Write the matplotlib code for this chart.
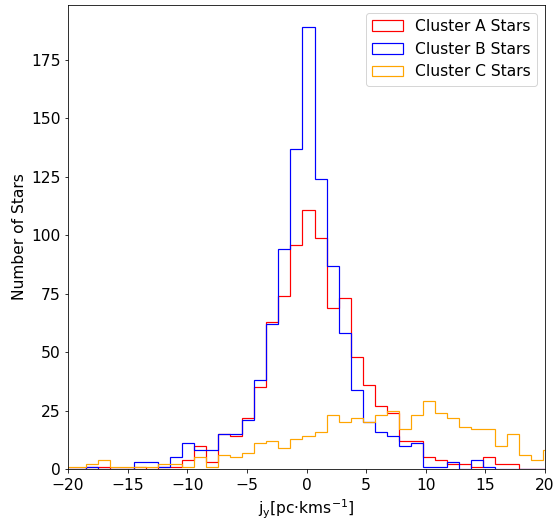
import numpy as np
import matplotlib
matplotlib.use("Agg")
import matplotlib.pyplot as plt

# Shared histogram bin edges (41 bins) and counts per cluster
bin_lo, bin_hi, n_bins = -20.51, 20.84, 41

cluster_a = [0, 0, 1, 1, 0, 0, 1, 0, 1, 1,
             4, 10, 3, 15, 14, 22, 35, 63, 74, 96,
             111, 99, 69, 73, 48, 36, 27, 24, 12, 12,
             5, 4, 2, 2, 1, 5, 2, 2, 0, 0, 0]
cluster_b = [0, 0, 1, 0, 0, 0, 3, 3, 1, 5,
             11, 8, 8, 15, 15, 21, 38, 62, 94, 137,
             189, 124, 87, 58, 34, 20, 16, 14, 10, 11,
             1, 1, 3, 0, 4, 1, 0, 0, 0, 0, 0]
cluster_c = [1, 1, 2, 4, 1, 1, 1, 1, 2, 2,
             1, 5, 1, 6, 5, 7, 11, 12, 9, 13,
             14, 16, 23, 20, 22, 20, 23, 25, 17, 23,
             29, 24, 22, 18, 17, 17, 10, 15, 6, 4, 8]

labels = ["Cluster A Stars", "Cluster B Stars", "Cluster C Stars"]
colors = ["red", "blue", "orange"]
x_ticks = [-20, -15, -10, -5, 0, 5, 10, 15, 20]
y_ticks = [0, 25, 50, 75, 100, 125, 150, 175]

edges = np.linspace(bin_lo, bin_hi, n_bins + 1)
centers = 0.5 * (edges[:-1] + edges[1:])

plt.rcParams["font.family"] = ["DejaVu Sans"]
plt.rcParams["font.size"] = 15.5

fig = plt.figure(figsize=(556 / 72, 520 / 72), dpi=72)
ax = fig.add_axes([0.1223, 0.098, 0.858, 0.8923])

for counts, lab, col in zip([cluster_a, cluster_b, cluster_c], labels, colors):
    ax.hist(centers, bins=edges, weights=counts, histtype="step",
            edgecolor=col, linewidth=1.2, label=lab)

ax.set_xlim(-20, 20)
ax.set_xticks(x_ticks)
ax.set_yticks(y_ticks)
ax.tick_params(axis="x", pad=5.5)
ax.set_xlabel(r"j$_\mathrm{y}$[pc·kms$^{-1}$]", labelpad=5)
ax.set_ylabel("Number of Stars")
ax.legend(loc="upper right")

fig.savefig("out.png", dpi=72)
